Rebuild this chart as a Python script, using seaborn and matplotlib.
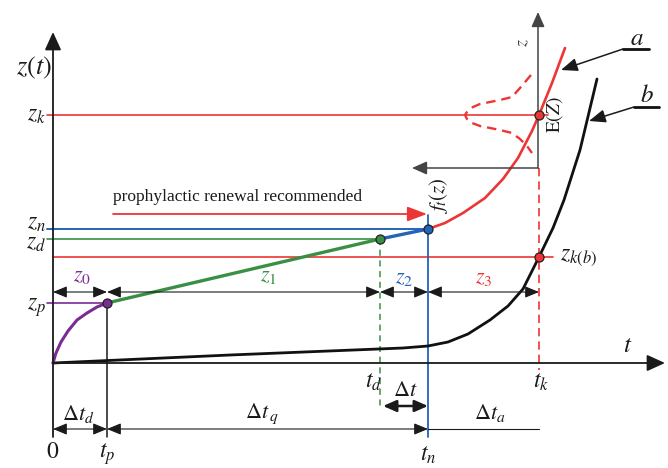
"""
Degradation / prophylactic renewal schematic z(t).
Coordinates are in drawing units: t to the right of the origin, z above it.
"""
import matplotlib
matplotlib.use("Agg")
import matplotlib.pyplot as plt
import seaborn as sns

# key instants on the t axis
T_P, T_D, T_N, T_K = 54, 327, 375, 486
# key levels on the z axis
Z_P, Z_D, Z_N, Z_KB, Z_K = 60, 124, 134, 106, 248

# purple start-up curve 0 -> t_p
PURPLE_T = [0, 3, 8, 15, 24, 34, 44, 54]
PURPLE_Z = [0, 10, 21, 32, 43, 50, 56, 60]

# curve a (red) after t_n
CURVE_A_T = [375, 392, 410, 432, 450, 465, 479, 486, 499, 512]
CURVE_A_Z = [134, 140, 150, 165, 184, 205, 232, 248, 280, 315]

# curve b (black)
CURVE_B_T = [0, 177, 350, 375, 395, 415, 437, 455, 470, 486, 500, 511, 527, 544]
CURVE_B_Z = [0, 8, 15, 17, 21, 29, 43, 57, 74, 106, 135, 163, 213, 284]

# density f_t(z) drawn sideways around z_k (dashed red)
DIST_T = [478, 467, 459, 447, 437, 427, 420, 414, 412,
          414, 419, 427, 437, 447, 459, 467, 474, 479]
DIST_Z = [288, 275, 266, 263, 261, 259, 256, 251, 248,
          244, 240, 237, 235, 233, 230, 224, 217, 210]

RED = "#ee3535"
BLUE = "#2363b8"
GREEN = "#3a8f45"
PURPLE = "#7a2c92"
GREY = "#444444"
INK = "#1a1a1a"

sns.set_style("white")
plt.rcParams["font.family"] = ["Liberation Serif", "DejaVu Serif"]
plt.rcParams["mathtext.fontset"] = "stix"

fig = plt.figure(figsize=(6.68, 4.68), dpi=100)
ax = fig.add_axes([0, 0, 1, 1])
ax.set_xlim(-53, 615)
ax.set_ylim(-105, 363)
ax.axis("off")


def arrow(p0, p1, style="-|>", color=INK, lw=1.0, hl=0.8, hw=0.4):
    ax.annotate("", xy=p1, xytext=p0,
                arrowprops=dict(arrowstyle=f"{style},head_length={hl},head_width={hw}",
                                color=color, lw=lw, shrinkA=0, shrinkB=0,
                                mutation_scale=10))


def dim(t0, t1, z, lw=0.8, hl=0.85, hw=0.35):
    arrow((t0, z), (t1, z), style="<|-|>", lw=lw, hl=hl, hw=hw)


# main axes
arrow((0, -74), (0, 331), color=INK, lw=1.3, hl=1.1, hw=0.5)
arrow((0, 0), (612, 0), color=INK, lw=1.3, hl=1.1, hw=0.5)

# horizontal reference levels
ax.plot([-6, 495], [Z_K, Z_K], color=RED, lw=1.2)
ax.plot([0, 500], [Z_KB, Z_KB], color=RED, lw=1.2)
ax.plot([-6, T_N], [Z_N, Z_N], color=BLUE, lw=1.4)
ax.plot([-6, T_D], [Z_D, Z_D], color=GREEN, lw=1.2)
ax.plot([-6, T_P], [Z_P, Z_P], color=PURPLE, lw=1.2)

# vertical reference lines
ax.plot([T_P, T_P], [Z_P, -74], color=INK, lw=1.1)
ax.plot([T_D, T_D], [Z_D, -45], color=GREEN, lw=1.1, ls=(0, (4, 3)))
ax.plot([T_N, T_N], [148, -74], color=BLUE, lw=1.3)
ax.plot([T_K, T_K], [195, -7], color=RED, lw=1.2, ls=(0, (5, 3)))

# distribution axes at t_k
arrow((485, 195), (485, 351), color=GREY, lw=1.1, hl=0.9, hw=0.4)
arrow((485, 195), (359, 195), color=GREY, lw=1.1, hl=0.9, hw=0.4)

# curves
sns.lineplot(x=CURVE_B_T, y=CURVE_B_Z, ax=ax, color="#111111", lw=2.0,
             sort=False, estimator=None)
sns.lineplot(x=PURPLE_T, y=PURPLE_Z, ax=ax, color=PURPLE, lw=2.2,
             sort=False, estimator=None)
sns.lineplot(x=[T_P, T_D], y=[Z_P, Z_D], ax=ax, color=GREEN, lw=2.4,
             sort=False, estimator=None)
sns.lineplot(x=[T_D, T_N], y=[Z_D, Z_N], ax=ax, color=BLUE, lw=2.4,
             sort=False, estimator=None)
sns.lineplot(x=CURVE_A_T, y=CURVE_A_Z, ax=ax, color=RED, lw=1.9,
             sort=False, estimator=None)
sns.lineplot(x=DIST_T, y=DIST_Z, ax=ax, color=RED, lw=1.7,
             sort=False, estimator=None, linestyle=(0, (4, 2.5)))

# points
pts = [(T_P, Z_P, PURPLE), (T_D, Z_D, GREEN), (T_N, Z_N, BLUE),
       (T_K, Z_K, RED), (T_K, Z_KB, RED)]
for t, z, c in pts:
    ax.plot(t, z, "o", ms=6.5, mfc=c, mec="#222222", mew=0.9, zorder=5)

# prophylactic renewal arrow
arrow((60, 149), (374, 149), color=RED, lw=1.3, hl=1.2, hw=0.45)
ax.text(60, 166, "prophylactic renewal recommended", fontsize=12.5,
        ha="left", va="center", color=INK)

# dimension rows
dim(0, T_P, 71)
dim(T_P, T_D, 71)
dim(T_D, T_N, 71)
dim(T_N, T_K, 71)
dim(0, T_P, -66)
dim(T_P, T_N, -66)
ax.plot([T_N, T_K], [-66, -66], color=INK, lw=0.8)
dim(T_D + 3, T_N, -43, lw=1.8, hl=0.8, hw=0.35)

fs = 16
ax.text(29, 86, r"$z_0$", color=PURPLE, fontsize=fs, ha="center", va="center")
ax.text(215, 86, r"$z_1$", color=GREEN, fontsize=fs, ha="center", va="center")
ax.text(351, 84, r"$z_2$", color=BLUE, fontsize=fs, ha="center", va="center")
ax.text(431, 84, r"$z_3$", color=RED, fontsize=fs, ha="center", va="center")

ax.text(25, -51, r"$\Delta t_d$", fontsize=fs, ha="center", va="center", color=INK)
ax.text(209, -51, r"$\Delta t_{\,q}$", fontsize=fs, ha="center", va="center", color=INK)
ax.text(352, -29, r"$\Delta t$", fontsize=fs, ha="center", va="center", color=INK)
ax.text(437, -50, r"$\Delta t_a$", fontsize=fs, ha="center", va="center", color=INK)

# axis labels
ax.text(-19, 295, r"$z(t)$", fontsize=19, ha="center", va="center", color=INK)
ax.text(575, 17, r"$t$", fontsize=18, ha="center", va="center", color=INK)
for lab, z in [(r"$z_k$", 247), (r"$z_n$", 139), (r"$z_d$", 119), (r"$z_p$", 55)]:
    ax.text(-7, z, lab, fontsize=17, ha="right", va="center", color=INK)
ax.text(0, -89, r"$0$", fontsize=17, ha="center", va="center", color=INK)
ax.text(T_P, -91, r"$t_p$", fontsize=17, ha="center", va="center", color=INK)
ax.text(T_N, -92, r"$t_n$", fontsize=17, ha="center", va="center", color=INK)
ax.text(321, -19, r"$t_d$", fontsize=17, ha="center", va="center", color=INK)
ax.text(488, -19, r"$t_k$", fontsize=17, ha="center", va="center", color=INK)
ax.text(507, 105, r"$z_{k(b)}$", fontsize=17, ha="left", va="center", color=INK)

ax.text(470, 320, r"$z$", fontsize=13, rotation=90, ha="center", va="center", color=GREY)
ax.text(502, 248, r"$\mathrm{E}(Z)$", fontsize=14, rotation=90, ha="center", va="center",
        color=INK)
ax.text(385, 167, r"$f_t(z)$", fontsize=15, rotation=90, ha="center", va="center",
        color=INK)

# curve tags a / b
ax.text(584, 324, r"$a$", fontsize=18, ha="center", va="center", color=INK)
ax.plot([570, 596], [314, 314], color="#111111", lw=2.0)
arrow((570, 314), (508, 293), lw=1.1, hl=1.0, hw=0.4)
ax.text(594, 267, r"$b$", fontsize=18, ha="center", va="center", color=INK)
ax.plot([581, 606], [256, 256], color="#111111", lw=2.0)
arrow((581, 256), (536, 242), lw=1.1, hl=1.0, hw=0.4)

fig.savefig("out.png", dpi=100)
